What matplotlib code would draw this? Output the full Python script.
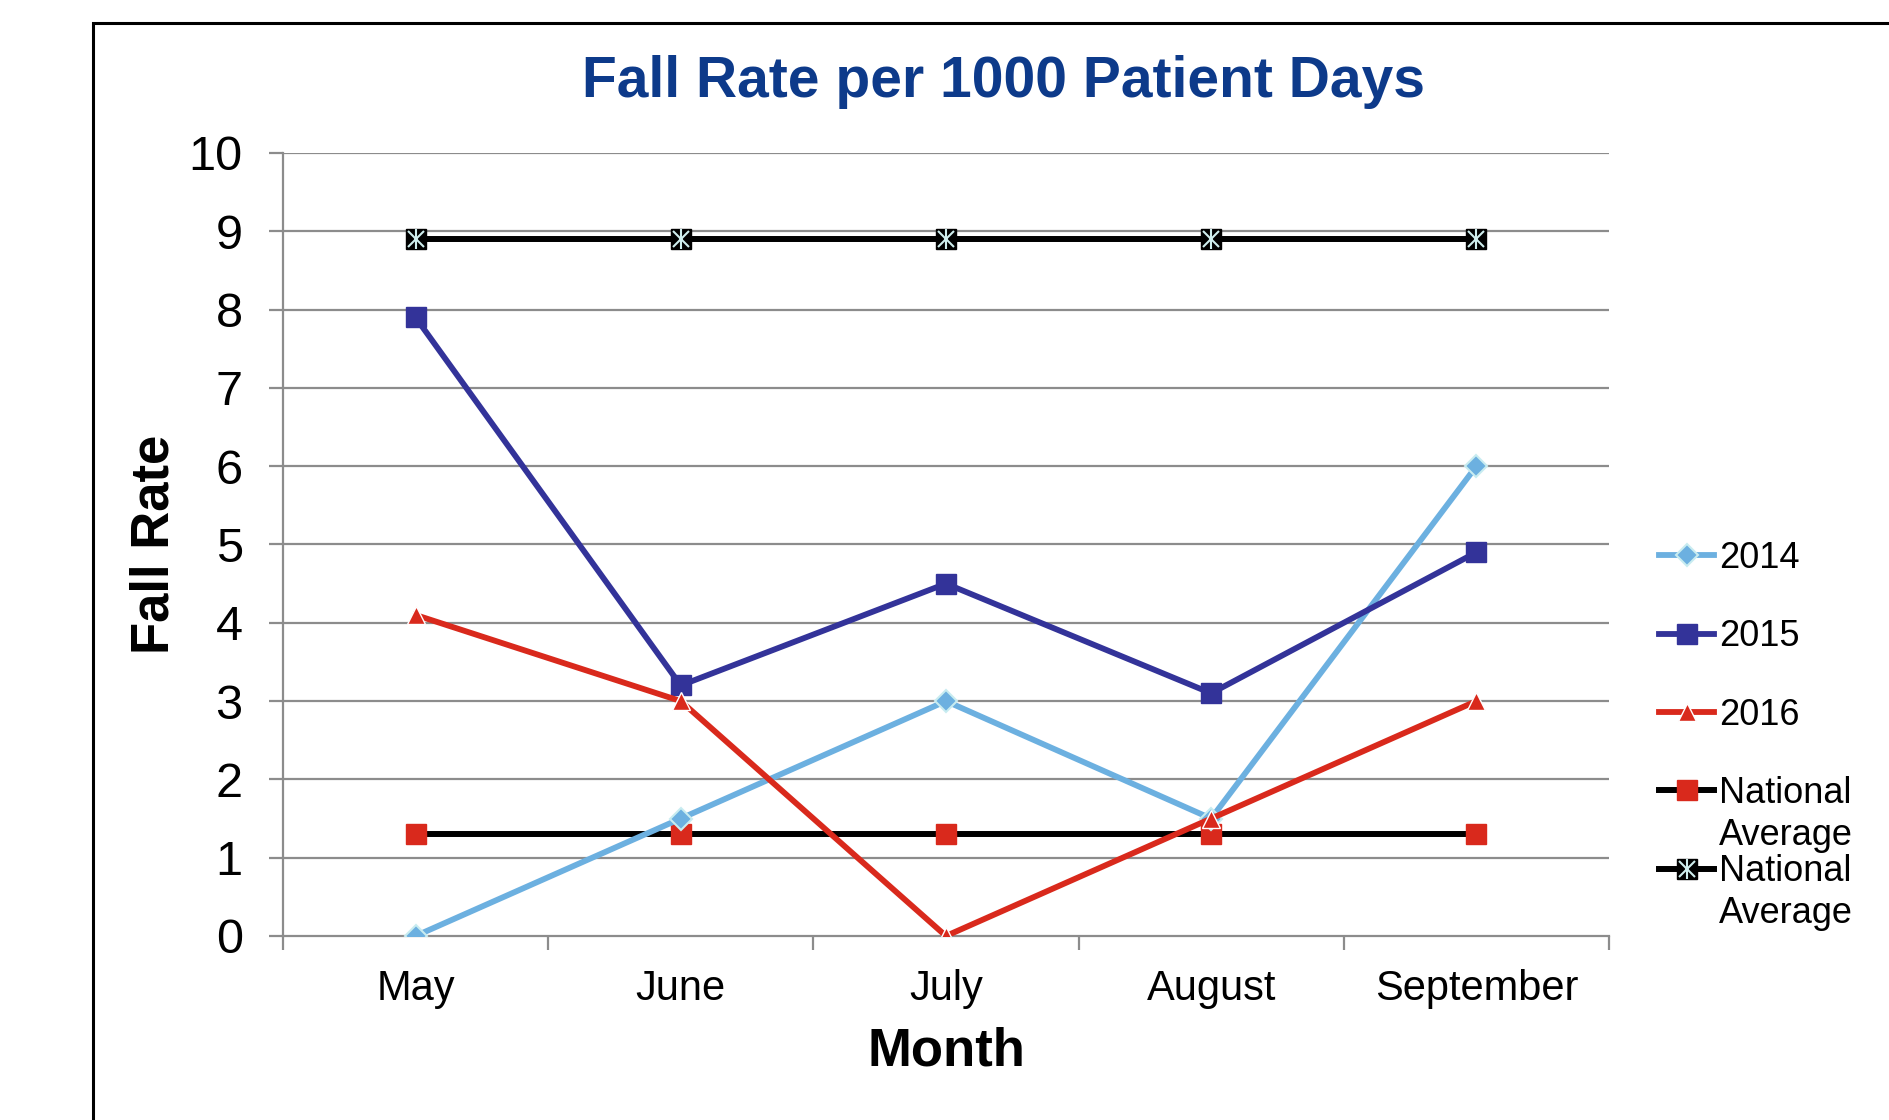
import matplotlib
matplotlib.use("Agg")
import matplotlib.pyplot as plt
from matplotlib.patches import Rectangle
from matplotlib.legend_handler import HandlerTuple

plt.rcParams['font.family'] = ['Liberation Sans', 'DejaVu Sans']

# data
months = ["May", "June", "July", "August", "September"]
rate_2014 = [0, 1.5, 3, 1.5, 6]
rate_2015 = [7.9, 3.2, 4.5, 3.1, 4.9]
rate_2016 = [4.1, 3.0, 0, 1.5, 3.0]
national_low = [1.3, 1.3, 1.3, 1.3, 1.3]
national_high = [8.9, 8.9, 8.9, 8.9, 8.9]
y_ticks = list(range(0, 11))

fig = plt.figure(figsize=(18.9, 11.2), dpi=100)
ax = fig.add_axes([0.1497, 0.1643, 0.7016, 0.6991])

x = list(range(len(months)))
grid_col = "#8c8c8c"

# outer border (cut off on right and bottom like the original)
fig.patches.append(Rectangle((0.049, -0.2), 1.2, 0.2 + 0.9795, transform=fig.transFigure,
                             fill=False, edgecolor="black", linewidth=2.2))

for yv in y_ticks[1:]:
    ax.axhline(yv, color=grid_col, linewidth=1.6, zorder=1)

l14, = ax.plot(x, rate_2014, color="#6cb0e0", linewidth=4.2, marker="D", markersize=11,
               markerfacecolor="#6cb0e0", markeredgecolor="#c8ecf0", markeredgewidth=1.5, zorder=3)
l15, = ax.plot(x, rate_2015, color="#333399", linewidth=4.2, marker="s", markersize=14.5,
               markerfacecolor="#333399", markeredgecolor="#333399", zorder=3)
l16, = ax.plot(x, rate_2016, color="#d9291c", linewidth=4.2, marker="^", markersize=13,
               markerfacecolor="#d9291c", markeredgecolor="white", markeredgewidth=1, zorder=3)
lnl, = ax.plot(x, national_low, color="black", linewidth=4.3, marker="s", markersize=14.5,
               markerfacecolor="#d9291c", markeredgecolor="#d9291c", zorder=2)
lnh, = ax.plot(x, national_high, color="black", linewidth=4.3, marker="s", markersize=14.5,
               markerfacecolor="black", markeredgecolor="black", zorder=2)
lnh_x, = ax.plot(x, national_high, linestyle="none", marker="x", markersize=12,
                 markeredgecolor="#cfeeee", markeredgewidth=1.5, zorder=4)
lnh_v, = ax.plot(x, national_high, linestyle="none", marker="|", markersize=14,
                 markeredgecolor="#cfeeee", markeredgewidth=1.5, zorder=4)

ax.set_xlim(-0.5, 4.5)
ax.set_ylim(0, 10)
ax.set_yticks(y_ticks)
ax.set_yticklabels([str(v) for v in y_ticks], fontsize=35)
ax.tick_params(axis="y", length=10, width=1.6, color=grid_col, pad=19)

ax.set_xticks([i - 0.5 for i in range(len(months) + 1)])
ax.set_xticklabels([])
ax.set_xticks(x, minor=True)
ax.set_xticklabels(months, minor=True, fontsize=30)
ax.tick_params(axis="x", which="major", length=10, width=1.6, color=grid_col, direction="out")
ax.tick_params(axis="x", which="minor", length=0, pad=24)

for side in ["top", "right"]:
    ax.spines[side].set_visible(False)
for side in ["left", "bottom"]:
    ax.spines[side].set_color(grid_col)
    ax.spines[side].set_linewidth(1.6)

ax.set_xlabel("Month", fontsize=38, fontweight="bold")
ax.xaxis.set_label_coords(0.5, -0.116)
ax.set_ylabel("Fall Rate", fontsize=38, fontweight="bold")
ax.yaxis.set_label_coords(-0.078, 0.5)

fig.text(0.5307, 0.927, "Fall Rate per 1000 Patient Days", ha="center", va="center",
         fontsize=41, fontweight="bold", color="#0d3a8a")

leg = fig.legend([l14, l15, l16, lnl, (lnh, lnh_x, lnh_v)],
                 ["2014", "2015", "2016", "National", "National"],
                 handler_map={tuple: HandlerTuple(ndivide=1, pad=0)},
                 loc="upper left", bbox_to_anchor=(0.878, 0.517), frameon=False,
                 fontsize=26, handlelength=1.5, handletextpad=0.15, labelspacing=1.2,
                 borderpad=0, borderaxespad=0)
fig.canvas.draw()
for t in [leg.get_texts()[3], leg.get_texts()[4]]:
    fig.add_artist(plt.Annotation("Average", xy=(0, 0), xycoords=t, xytext=(0, -30),
                                  textcoords="offset points", ha="left", va="bottom",
                                  fontsize=26, zorder=6))

fig.savefig("out.png", dpi=100)
